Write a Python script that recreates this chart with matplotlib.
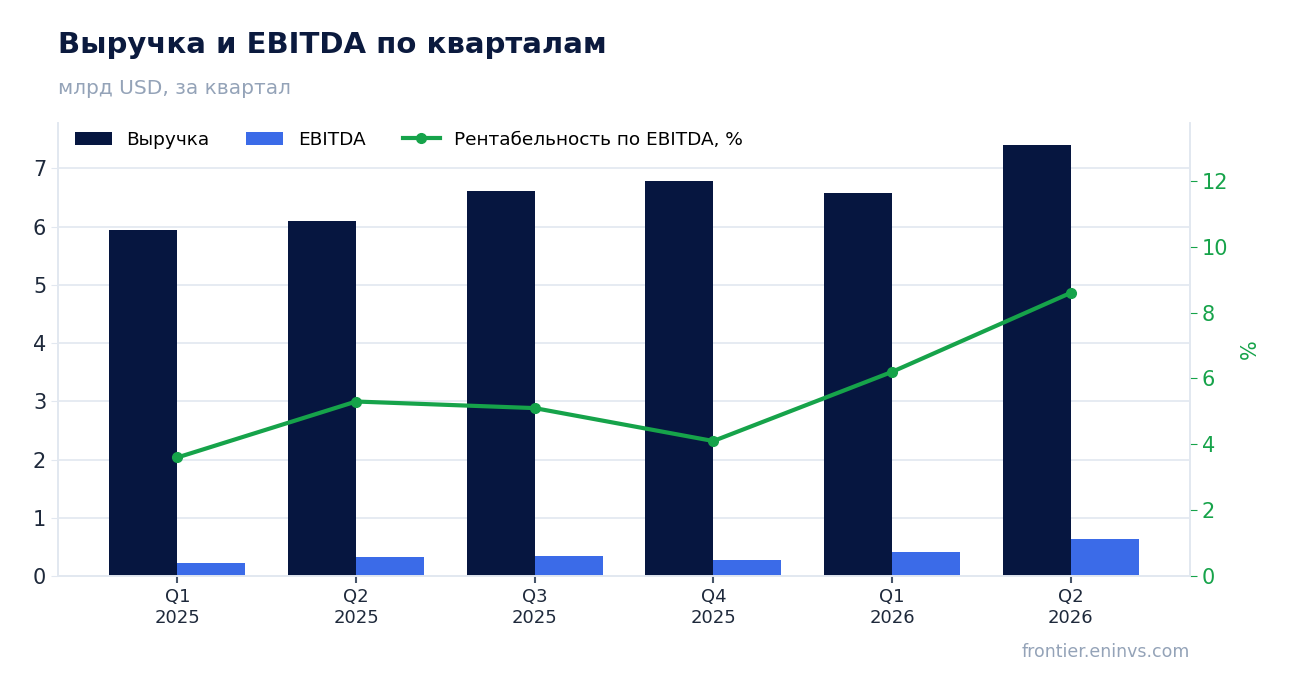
import numpy as np
import matplotlib.pyplot as plt

quarters = ["Q1\n2025", "Q2\n2025", "Q3\n2025", "Q4\n2025", "Q1\n2026", "Q2\n2026"]
revenue = [5.95, 6.09, 6.62, 6.78, 6.57, 7.41]
ebitda = [0.22, 0.33, 0.34, 0.28, 0.41, 0.64]
margin = [3.6, 5.3, 5.1, 4.1, 6.2, 8.6]

NAVY = "#061640"
BLUE = "#3B6BE8"
GREEN = "#16A34A"
GRID = "#E2E8F0"

fig = plt.figure(figsize=(12.89, 6.93), dpi=100)
ax = fig.add_axes([58 / 1289, 1 - 576 / 693, (1190 - 58) / 1289, (576 - 123) / 693])

x = np.arange(len(quarters))
w = 0.38
b1 = ax.bar(x - w / 2, revenue, w, color=NAVY, label="Выручка", zorder=2)
b2 = ax.bar(x + w / 2, ebitda, w, color=BLUE, label="EBITDA", zorder=2)
ax.set_ylim(0, max(revenue) * 1.05)
ax.set_xticks(x)
ax.set_xticklabels(quarters, fontsize=13, color="#1E293B")
ax.tick_params(axis="x", length=5, width=1.5, color="#475569")
ax.tick_params(axis="y", labelsize=15, labelcolor="#1E293B", color=GRID, length=5)
ax.grid(axis="y", color=GRID, linewidth=1.2, zorder=0)
ax.set_axisbelow(True)
ax.spines["top"].set_visible(False)
for s in ["left", "right", "bottom"]:
    ax.spines[s].set_color(GRID)
    ax.spines[s].set_linewidth(1.2)

ax2 = ax.twinx()
ln, = ax2.plot(x, margin, color=GREEN, linewidth=3, marker="o", markersize=7,
               label="Рентабельность по EBITDA, %", zorder=3)
ax2.set_ylim(0, max(margin) * 1.6)
ax2.set_yticks([0, 2, 4, 6, 8, 10, 12])
ax2.tick_params(axis="y", labelsize=15, labelcolor=GREEN, color=GREEN, length=5)
ax2.set_ylabel("%", color=GREEN, fontsize=15, labelpad=8)
ax2.spines["top"].set_visible(False)
for s in ["left", "right", "bottom"]:
    ax2.spines[s].set_color(GRID)
    ax2.spines[s].set_linewidth(1.2)

ax.legend(handles=[b1, b2, ln], loc="upper left", ncol=3, frameon=False, fontsize=13.3,
          bbox_to_anchor=(0.0, 1.02), handlelength=2.0, columnspacing=2.0, handletextpad=0.8)

fig.text(58 / 1289, 1 - 45 / 693, "Выручка и EBITDA по кварталам", fontsize=21, fontweight="bold",
         color="#0B1A3E", va="center")
fig.text(58 / 1289, 1 - 88 / 693, "млрд USD, за квартал", fontsize=14.5, color="#94A3B8", va="center")
fig.text(1190 / 1289, 1 - 652 / 693, "frontier.eninvs.com", fontsize=12.5, color="#94A3B8",
         va="center", ha="right")

fig.savefig("out.png", dpi=100)
